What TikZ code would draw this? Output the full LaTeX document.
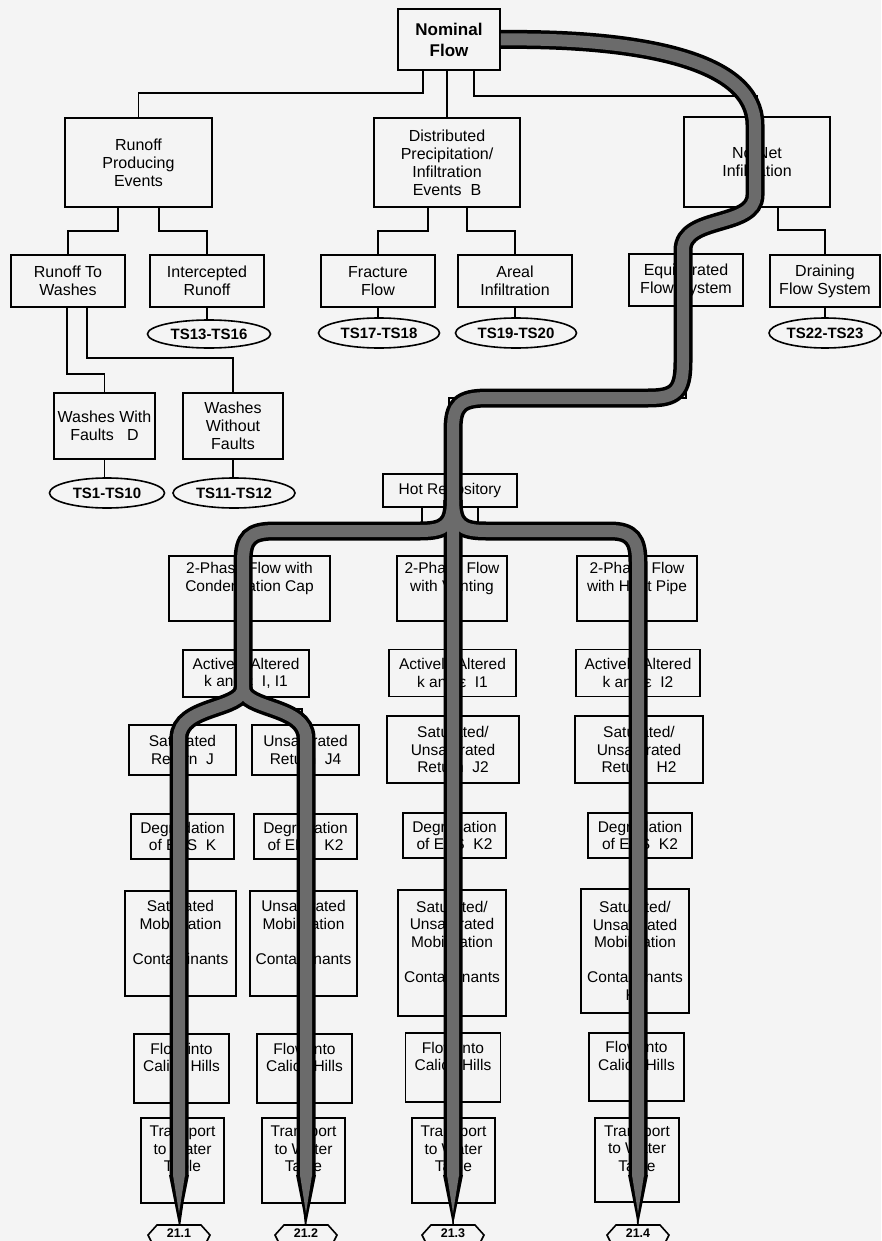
\documentclass[tikz,border=0pt]{standalone}
\usepackage{fontspec}
\setmainfont{Liberation Sans}
\usetikzlibrary{shapes.geometric}
\definecolor{bg}{RGB}{244,244,244}
\newcommand\mybox[7][boxst]{\node[#1,minimum width=#5,minimum height=#6] (#2) at (#3,#4) {#7};}
\begin{document}
\begin{tikzpicture}[x=1pt,y=-1pt,
 boxst/.style={draw,line width=1.6,inner sep=0pt,align=center,font=\fontsize{15.5}{17.5}\selectfont},
 topst/.style={boxst,font=\fontsize{16}{18}\selectfont},
 nomst/.style={boxst,font=\bfseries\fontsize{17}{21}\selectfont},
 ovalst/.style={draw,ellipse,line width=1.6,inner sep=0pt,font=\bfseries\fontsize{15}{16}\selectfont},
 linkst/.style={line width=1.6},
 tagst/.style={font=\bfseries\fontsize{12.5}{14}\selectfont,inner sep=0pt},
]
\fill[bg] (0,0) rectangle (881,1241);
\useasboundingbox (0,0) rectangle (881,1241);

% ---------- upper tree ----------
\mybox[nomst]{nominal}{449}{39.5}{102}{61}{Nominal\\Flow}
\mybox[topst]{runoff}{138.5}{162.5}{147}{89}{Runoff\\Producing\\Events}
\mybox[topst]{distrib}{447}{162.5}{146}{89}{Distributed\\Precipitation/\\Infiltration\\Events~ B}
\mybox[topst]{nonet}{757}{162}{146}{90}{No Net\\Infiltration}
\mybox[topst]{rtw}{68}{281}{114}{52}{Runoff To\\Washes}
\mybox[topst]{intercepted}{207}{281}{114}{52}{Intercepted\\Runoff}
\mybox[topst]{fracture}{378}{281}{114}{52}{Fracture\\Flow}
\mybox[topst]{areal}{515}{281}{114}{52}{Areal\\Infiltration}
\mybox[topst]{equil}{686}{280}{114}{52}{Equilibrated\\Flow System}
\mybox[topst]{draining}{825}{281}{110}{52}{Draining\\Flow System}
\mybox[topst]{wwf}{104.5}{426}{101}{66}{Washes With\\Faults~~ D}
\mybox[topst]{wwof}{233}{426}{100}{66}{Washes\\Without\\Faults}

\node[ovalst,minimum width=123,minimum height=28] (ts1316) at (209,334) {TS13-TS16};
\node[ovalst,minimum width=121,minimum height=30] (ts1718) at (379,333) {TS17-TS18};
\node[ovalst,minimum width=121,minimum height=30] (ts1920) at (516,333) {TS19-TS20};
\node[ovalst,minimum width=112,minimum height=30] (ts2223) at (825,333) {TS22-TS23};
\node[ovalst,minimum width=115,minimum height=30] (ts110) at (107,493) {TS1-TS10};
\node[ovalst,minimum width=122,minimum height=30] (ts1112) at (234,493) {TS11-TS12};

% ---------- lower tree ----------
\mybox{hot}{450}{490.5}{134}{33}{Hot Repository}
\mybox{cond}{249.5}{588.5}{161}{65}{2-Phase Flow with\\Condensation Cap\\\strut}
\mybox{vent}{452}{588.5}{110}{65}{2-Phase Flow\\with Venting\\\strut}
\mybox{heat}{637}{588.5}{120}{65}{2-Phase Flow\\with Heat Pipe\\\strut}
\mybox{aa1}{246}{673.5}{126}{47}{Actively Altered\\k and ε~ I, I1}
\mybox{aa2}{452.5}{673}{127}{47}{Actively Altered\\k and ε~ I1}
\mybox{aa3}{638}{673}{124}{47}{Actively Altered\\k and ε~ I2}
\mybox{sr}{182.5}{750}{107}{50}{Saturated\\Return~ J}
\mybox{ur}{305.5}{750}{107}{50}{Unsaturated\\Return~ J4}
\mybox{sur2}{453}{749.5}{132}{67}{Saturated/\\Unsaturated\\Return~ J2}
\mybox{surh2}{639}{749.5}{128}{67}{Saturated/\\Unsaturated\\Return~ H2}
\mybox{deg1}{182.5}{836.5}{103}{45}{Degradation\\of EBS~ K}
\mybox{deg2}{305.5}{836.5}{103}{45}{Degradation\\of EBS~ K2}
\mybox{deg3}{454.5}{835.5}{103}{45}{Degradation\\of EBS~ K2}
\mybox{deg4}{640}{835.5}{104}{45}{Degradation\\of EBS~ K2}
\mybox{mob1}{180.5}{943.5}{111}{105}{Saturated\\Mobilization\\of\\Contaminants\\\strut}
\mybox{mob2}{303.5}{943.5}{107}{105}{Unsaturated\\Mobilization\\of\\Contaminants\\\strut}
\mybox{mob3}{452}{953}{108}{126}{Saturated/\\Unsaturated\\Mobilization\\of\\Contaminants\\\strut}
\mybox{mob4}{635}{951}{108}{124}{Saturated/\\Unsaturated\\Mobilization\\of\\Contaminants\\K2}
\mybox{flow1}{181.5}{1068.5}{95}{69}{Flow into\\Calico Hills\\\strut}
\mybox{flow2}{304.5}{1068.5}{95}{69}{Flow into\\Calico Hills\\\strut}
\mybox{flow3}{453}{1067.5}{95}{69}{Flow into\\Calico Hills\\\strut}
\mybox{flow4}{636.5}{1067}{95}{68}{Flow into\\Calico Hills\\\strut}
\mybox{tr1}{182.5}{1160.5}{83}{85}{Transport\\to Water\\Table\\\strut}
\mybox{tr2}{303.5}{1160.5}{83}{85}{Transport\\to Water\\Table\\\strut}
\mybox{tr3}{453.5}{1160.5}{83}{85}{Transport\\to Water\\Table\\\strut}
\mybox{tr4}{637}{1160}{84}{84}{Transport\\to Water\\Table\\\strut}

\node[tagst] (lab1) at (179,1233) {21.1};
\node[tagst] (lab2) at (306,1233) {21.2};
\node[tagst] (lab3) at (453,1233) {21.3};
\node[tagst] (lab4) at (638,1233) {21.4};

% ---------- thin connectors ----------
\draw[linkst] ([xshift=-26]nominal.south) -- ++(0,22) -| (runoff.north);
\draw[linkst] (nominal.south -| distrib.north) -- (distrib.north);
\draw[linkst] ([xshift=25]nominal.south) -- ++(0,25) -| (nonet.north);
\draw[linkst] ([xshift=-20.5]runoff.south) -- ++(0,23) -| (rtw.north);
\draw[linkst] ([xshift=20.5]runoff.south) -- ++(0,23) -| (intercepted.north);
\draw[linkst] ([xshift=-19]distrib.south) -- ++(0,23) -| (fracture.north);
\draw[linkst] ([xshift=20]distrib.south) -- ++(0,23) -| (areal.north);
\draw[linkst] ([xshift=-2]nonet.south) .. controls +(0,21) and +(0,-39) .. (equil.north);
\draw[linkst] ([xshift=21]nonet.south) -- ++(0,22) -| (draining.north);
\draw[linkst] (intercepted.south) -- (intercepted.south |- ts1316.north);
\draw[linkst] (fracture.south) -- (fracture.south |- ts1718.north);
\draw[linkst] (areal.south) -- (areal.south |- ts1920.north);
\draw[linkst] (draining.south) -- (draining.south |- ts2223.north);
\draw[linkst] ([xshift=-1]rtw.south) -- ++(0,66) -| (wwf.north);
\draw[linkst] ([xshift=19]rtw.south) -- ++(0,50) -| (wwof.north);
\draw[linkst] (wwf.south) -- (wwf.south |- ts110.north);
\draw[linkst] (wwof.south) -- (wwof.south |- ts1112.north);
\draw[linkst] (equil.south) -- ++(0,91) -| ([xshift=-1]hot.north);
\draw[linkst] ([xshift=-28]hot.south) -- ++(0,24) -| ([xshift=-6.5]cond.north);
\draw[linkst] (hot.south -| vent.north) -- (vent.north);
\draw[linkst] ([xshift=28]hot.south) -- ++(0,24) -| (heat.north);
\draw[linkst] (aa1.north |- cond.south) -- (aa1.north);
\draw[linkst] (aa2.north |- vent.south) -- (aa2.north);
\draw[linkst] (aa3.north |- heat.south) -- (aa3.north);
\draw[linkst] ([xshift=-3]aa1.south) -- (sr.north);
\draw[linkst] ([xshift=23]aa1.south) -- ++(0,11) -| ([xshift=-3.5]ur.north);
\draw[linkst] (sur2.north |- aa2.south) -- (sur2.north);
\draw[linkst] (surh2.north |- aa3.south) -- (surh2.north);
\draw[linkst] (deg1.north |- sr.south) -- (deg1.north);
\draw[linkst] (deg2.north |- ur.south) -- (deg2.north);
\draw[linkst] (deg3.north |- sur2.south) -- (deg3.north);
\draw[linkst] (deg4.north |- surh2.south) -- (deg4.north);
\draw[linkst] (mob1.north |- deg1.south) -- (mob1.north);
\draw[linkst] (mob2.north |- deg2.south) -- (mob2.north);
\draw[linkst] (mob3.north |- deg3.south) -- (mob3.north);
\draw[linkst] (mob4.north |- deg4.south) -- (mob4.north);
\draw[linkst] (flow1.north |- mob1.south) -- (flow1.north);
\draw[linkst] (flow2.north |- mob2.south) -- (flow2.north);
\draw[linkst] (flow3.north |- mob3.south) -- (flow3.north);
\draw[linkst] (flow4.north |- mob4.south) -- (flow4.north);
\draw[linkst] (tr1.north |- flow1.south) -- (tr1.north);
\draw[linkst] (tr2.north |- flow2.south) -- (tr2.north);
\draw[linkst] (tr3.north |- flow3.south) -- (tr3.north);
\draw[linkst] (tr4.north |- flow4.south) -- (tr4.north);
\draw[linkst] (tr1.south) -- (lab1.north);
\draw[linkst] (tr2.south) -- (lab2.north);
\draw[linkst] (tr3.south) -- (lab3.north);
\draw[linkst] (tr4.south) -- (lab4.north);

% ---------- thick highlighted path ----------
\foreach \lw/\col/\hw/\tl in {19/black/10/1225, 12/black!58/6/1213}{
  \draw[line width=\lw, color=\col]
    (nominal.east) .. controls (640,38) and (755,60) .. (755,125) -- (755,195)
    .. controls (755,228) and (683,215) .. (683,250) -- (683,362)
    .. controls (683,392) and (675,398) .. (648,398) -- (488,398)
    .. controls (460,398) and (453,405) .. (453,430) -- (453,1176);
  \draw[line width=\lw, color=\col]
    (453,500) .. controls (453,525) and (445,531) .. (420,531) -- (275,531)
    .. controls (250,531) and (243,538) .. (243,562) -- (243,688)
    .. controls (243,710) and (179,705) .. (179,738) -- (179,1176);
  \draw[line width=\lw, color=\col]
    (243,688) .. controls (243,710) and (306,705) .. (306,738) -- (306,1176);
  \draw[line width=\lw, color=\col]
    (453,500) .. controls (453,525) and (461,531) .. (486,531) -- (610,531)
    .. controls (632,531) and (638,540) .. (638,562) -- (638,1176);
  \foreach \xx in {179,306,453,638}{
    \fill[color=\col] (\xx-\hw,1175) -- (\xx+\hw,1175) -- (\xx,\tl) -- cycle;
  }
}

% ---------- continuation symbols ----------
\foreach \nm in {lab1,lab2,lab3,lab4}{
  \draw[linkst,fill=bg] ([shift={(-27,10)}]\nm.center) -- ++(-4,-8) -- ++(9,-10) -- ++(44,0) -- ++(9,10) -- ++(-4,8);
}
\node[tagst] at (lab1) {21.1};
\node[tagst] at (lab2) {21.2};
\node[tagst] at (lab3) {21.3};
\node[tagst] at (lab4) {21.4};
\end{tikzpicture}
\end{document}
